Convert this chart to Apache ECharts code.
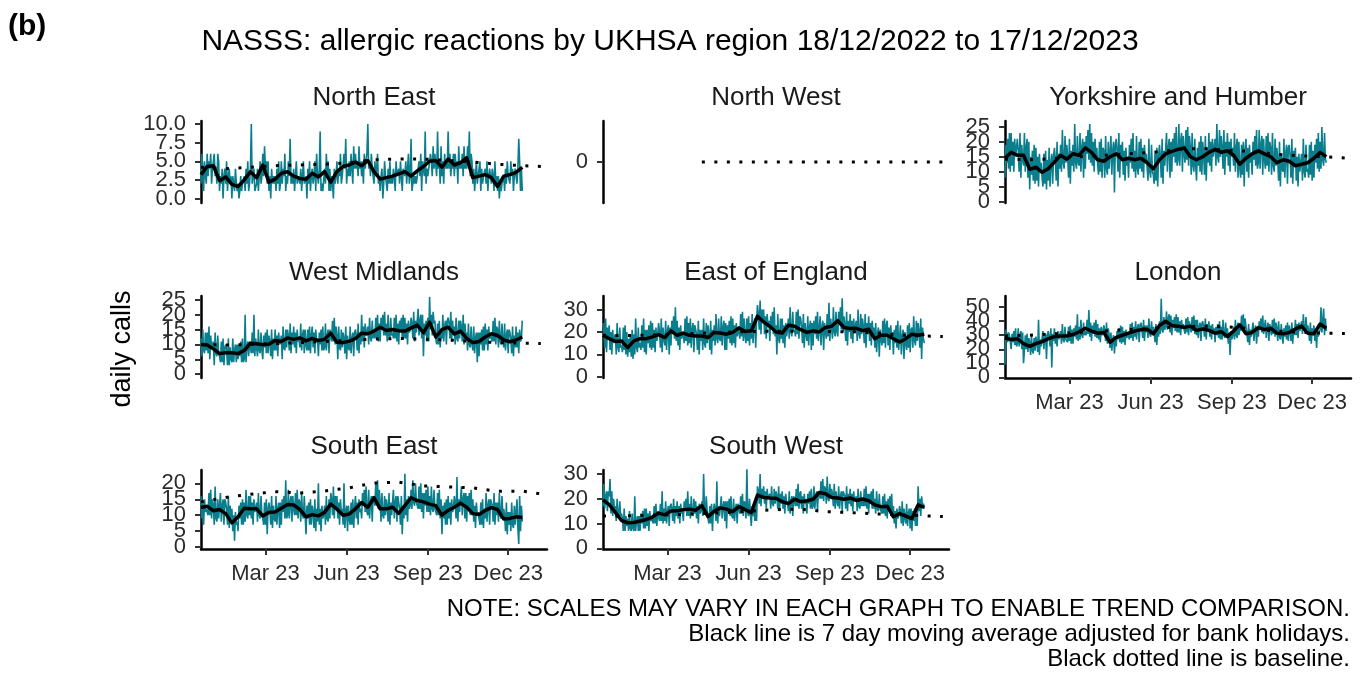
<!DOCTYPE html>
<html>
<head>
<meta charset="utf-8">
<script src="https://cdn.jsdelivr.net/npm/echarts@6.0.0/dist/echarts.min.js"></script>
<style>
  html, body { margin: 0; padding: 0; background: #fff; }
  #main { width: 1362px; height: 675px; }
</style>
</head>
<body>
<div id="main"></div>
<script>
// ---- data ----
var regions = ['North East', 'North West', 'Yorkshire and Humber', 'West Midlands',
               'East of England', 'London', 'South East', 'South West'];
var startDate = '2022-12-18';
var tickDates = ['2023-03-01', '2023-06-01', '2023-09-01', '2023-12-01'];
var tickLabels = ['Mar 23', 'Jun 23', 'Sep 23', 'Dec 23'];
// baseline read every 4 weeks (days since start)
var baseDays = [0, 28, 56, 84, 112, 140, 168, 196, 224, 252, 280, 308, 336, 364, 385];

// daily calls, one value per day from 18/12/2022
var neDaily = [
  2,6,4,1,5,3,2, 6,3,5,4,6,2,4, 5,6,3,4,2,6,5, 1,3,2,4,0,3,4, 2,5,1,3,4,2,3,
  0,3,2,1,4,2,1, 2,0,1,3,1,2,2, 3,1,4,2,5,1,2, 4,10,2,3,4,1,1, 2,4,1,3,5,2,3,
  6,3,7,4,5,2,5, 1,3,0,4,2,3,2, 3,1,4,2,5,1,2, 5,2,4,3,6,1,3, 2,5,3,8,2,3,2,
  4,1,3,5,2,3,3, 2,4,1,3,5,2,2, 3,0,4,2,5,1,3, 4,2,3,5,1,6,3, 2,4,9,1,2,1,1,
  4,2,6,3,5,1,4, 1,3,2,0,4,2,3, 5,2,4,3,6,2,3, 3,6,4,8,2,4,3, 5,3,6,4,2,7,4,
  6,4,5,3,7,4,5, 3,5,2,6,4,5,6, 10,4,5,3,6,4,4, 2,5,3,4,6,2,3, 1,3,4,0,2,5,3,
  3,1,4,2,5,2,3, 2,4,3,1,5,3,3, 4,2,5,3,1,4,4, 3,5,2,4,6,2,3, 8,1,2,3,2,3,2,
  2,4,5,3,6,1,5, 5,3,9,2,4,3,4, 4,6,5,3,7,4,6, 6,3,9,4,5,2,7, 3,5,2,6,4,5,4,
  9,4,6,3,5,4,6, 3,6,4,5,2,7,4, 5,4,6,3,7,4,5, 4,7,5,9,3,6,5, 2,4,1,3,5,2,3,
  3,5,1,4,2,3,3, 4,2,5,1,3,4,3, 2,4,3,1,5,2,3, 1,3,0,2,1,2,2, 3,1,4,2,5,3,3,
  2,5,3,4,1,3,4, 3,2,4,8,5,1,4, 1
];
var yhDaily = [
  8,19,13,21,11,23,10, 23,12,20,10,21,15,18, 21,17,10,23,8,19,14, 12,23,10,18,21,8,20,
  4,15,9,17,7,19,6, 18,7,15,5,16,10,13, 8,5,16,6,17,4,14, 7,18,5,13,16,6,15,
  18,14,7,20,5,16,11, 19,10,24,13,11,22,13, 19,15,8,21,6,17,12, 19,10,26,13,11,22,13,
  12,23,10,18,21,8,20, 11,22,16,24,14,26,13, 23,12,20,10,21,15,18, 12,9,20,10,21,8,18,
  17,8,22,11,9,20,11, 11,22,9,17,20,3,19, 21,17,10,23,8,19,14, 20,9,17,7,18,12,15,
  8,19,13,21,11,23,10, 17,8,22,11,9,20,11, 21,10,18,8,19,13,16, 16,7,21,10,8,19,10,
  9,6,17,7,18,5,15, 19,15,8,21,6,17,12, 12,23,10,18,21,8,20, 10,21,15,23,13,25,12,
  14,26,12,20,23,10,22, 16,13,24,14,25,12,22, 18,9,23,12,10,21,12, 7,18,12,20,10,22,9,
  20,16,9,22,7,18,13, 23,12,20,10,21,15,18, 21,12,26,15,13,24,15, 22,18,11,24,9,20,15,
  23,12,20,10,21,15,18, 12,23,10,18,21,8,20, 11,8,19,9,20,5,17, 21,10,18,8,19,13,16,
  9,20,14,22,12,24,11, 13,24,11,19,22,9,21, 14,11,22,12,23,10,20, 18,9,23,12,10,21,12,
  18,14,7,20,5,16,11, 10,21,8,16,19,6,18, 19,15,8,21,6,17,12, 18,7,15,5,16,10,13,
  16,7,21,10,8,19,10, 11,8,19,9,20,7,17, 8,19,13,21,11,23,10, 20,11,25,14,12,23,14, 13
];
var wmDaily = [
  12,6,15,8,7,14,8, 14,7,16,5,13,9,10, 11,3,14,7,6,13,7, 6,4,11,4,12,3,9, 10,8,3,12,3,9,5,
  4,12,4,8,10,4,10, 5,10,6,11,4,12,4, 5,20,4,9,11,6,11, 9,7,14,7,20,6,12, 12,6,15,8,7,14,8,
  5,13,9,14,7,15,7, 13,11,6,15,5,12,8, 15,8,13,6,14,10,11, 13,5,16,9,8,15,9, 15,13,8,17,7,14,10,
  16,9,14,7,15,11,12, 9,17,8,13,15,7,15, 10,8,15,8,16,7,13, 16,9,14,7,15,11,12, 6,14,10,15,8,16,8,
  9,17,8,13,15,7,15, 13,11,18,11,19,10,16, 13,5,16,9,8,15,9, 14,12,7,16,5,13,9, 8,16,7,12,14,6,14,
  15,13,8,17,7,14,10, 20,11,16,9,17,13,14, 16,10,19,12,11,18,12, 14,12,19,12,20,11,17, 11,19,15,20,13,21,13,
  17,11,20,13,12,19,13, 14,12,19,12,20,11,17, 10,18,14,19,12,20,12, 19,12,17,10,18,14,15, 19,17,12,21,11,18,14,
  14,22,13,18,20,12,20, 6,17,13,18,11,19,11, 26,15,20,13,21,17,18, 12,10,17,10,18,9,15, 12,20,11,16,18,10,18,
  19,17,12,21,11,18,14, 16,10,19,12,11,18,12, 18,16,11,20,10,17,13, 14,8,17,10,9,16,10, 8,16,7,12,14,4,14,
  6,14,10,15,8,16,8, 17,10,15,8,16,12,13, 13,11,18,11,19,10,16, 15,9,18,11,10,17,11, 9,17,8,13,15,7,15,
  14,12,7,16,6,13,9, 16,9,14,7,15,11,12, 18
];
var eeDaily = [
  24,20,13,26,11,22,17, 23,12,20,10,21,15,18, 19,10,24,13,11,22,13, 14,11,22,12,23,10,20, 9,17,11,19,9,21,8,
  19,10,26,13,11,22,13, 15,12,23,13,26,11,21, 10,21,15,23,13,25,12, 24,13,21,11,22,16,19, 24,20,13,26,11,22,17,
  14,25,12,20,23,10,22, 14,25,19,27,17,31,16, 25,14,22,12,23,17,20, 18,15,26,16,27,14,24, 15,26,13,21,24,11,23,
  23,19,12,25,10,21,16, 21,12,26,15,13,24,15, 23,19,12,25,10,21,16, 23,14,28,17,15,26,17, 16,27,14,22,25,12,24,
  12,23,17,25,15,27,14, 26,15,23,13,24,18,21, 20,17,28,18,29,16,26, 18,15,26,16,27,14,24, 17,28,15,23,26,13,25,
  32,28,21,34,19,30,25, 30,19,27,17,28,22,25, 16,27,21,29,19,31,18, 23,10,28,17,15,26,17, 26,15,23,13,24,18,21,
  26,17,31,20,18,29,20, 21,18,29,19,30,17,27, 26,22,15,28,13,24,19, 16,27,14,22,25,12,24, 14,25,19,27,17,29,16,
  16,27,14,22,25,12,24, 20,17,28,18,33,16,26, 26,17,31,20,18,29,20, 18,29,23,31,21,35,20, 27,23,16,29,14,25,20,
  28,17,25,15,26,20,23, 25,16,30,19,17,28,19, 26,22,15,28,13,24,19, 27,16,24,14,25,19,22, 13,24,11,19,22,9,21,
  17,14,25,15,26,13,23, 25,14,22,12,23,17,20, 10,21,15,23,13,25,12, 12,23,10,18,21,8,20, 15,12,23,13,24,11,21,
  22,13,27,16,14,25,16, 24,20,13,26,8,22,17, 15
];
var lnDaily = [
  9,34,31,25,32,30,29, 20,31,25,33,23,35,22, 24,35,22,30,33,20,32, 10,19,30,20,31,18,28, 25,16,30,19,17,28,19,
  29,25,18,41,16,27,22, 22,33,20,28,31,13,30, 33,29,22,35,7,31,26, 35,24,32,22,33,27,30, 33,24,38,27,25,36,27,
  28,25,36,26,37,24,34, 24,35,29,37,27,45,26, 36,27,41,30,28,39,30, 33,30,41,31,48,29,39, 26,37,31,39,29,41,28,
  38,27,35,25,36,30,33, 37,33,26,39,24,35,30, 21,32,19,27,30,17,29, 22,33,27,35,25,37,24, 36,25,33,23,34,28,31,
  30,27,38,28,39,26,36, 29,40,27,35,38,25,37, 39,35,28,41,26,37,32, 37,28,42,31,29,40,31, 36,32,25,38,23,34,29,
  40,31,56,34,32,43,34, 36,47,34,42,45,32,44, 30,41,35,43,33,45,32, 43,32,40,30,41,35,38, 34,31,42,32,43,30,40,
  35,32,43,33,44,31,41, 30,41,28,36,39,26,38, 40,36,29,42,27,38,33, 40,29,37,27,38,32,35, 25,36,30,38,28,40,27,
  36,27,41,30,28,39,30, 35,24,32,16,33,27,30, 36,27,41,30,28,39,30, 36,33,44,34,45,32,42, 36,32,25,38,23,34,29,
  28,39,26,34,37,24,36, 29,40,34,42,32,44,31, 30,41,28,36,39,26,38, 33,30,41,31,42,29,39, 35,26,40,29,27,38,29,
  24,35,29,37,27,39,26, 37,33,26,39,24,35,30, 41,30,38,28,39,33,36, 40,31,45,34,32,43,34, 37,33,26,39,24,35,30,
  37,26,34,21,35,29,32, 34,50,32,40,49,30,42, 33
];
var seDaily = [
  16,9,14,7,15,11,12, 12,10,17,10,18,9,15, 13,7,19,9,8,15,9, 9,17,8,13,15,7,15, 14,12,7,16,6,13,9,
  12,5,10,2,11,7,8, 5,13,9,14,7,15,7, 14,8,18,10,9,16,10, 16,9,14,7,15,11,12, 14,8,17,10,9,16,10,
  9,7,14,7,15,4,12, 14,12,7,16,6,13,9, 8,16,7,12,14,6,14, 7,15,11,16,9,21,9, 10,18,9,14,16,8,16,
  12,10,17,10,18,9,15, 14,8,17,10,9,16,10, 4,13,9,14,7,15,7, 13,11,6,15,5,12,8, 20,7,12,5,13,9,10,
  13,7,16,9,8,15,9, 17,15,10,19,9,16,12, 16,9,14,7,15,11,12, 7,20,6,11,13,5,13, 9,7,14,7,15,6,12,
  16,9,14,7,15,11,12, 9,17,13,18,11,19,11, 10,18,9,14,16,8,16, 15,13,20,13,21,12,18, 14,8,17,10,9,16,10,
  15,13,8,17,7,14,10, 10,18,9,14,16,8,16, 14,12,7,16,4,13,9, 23,10,15,8,16,12,13, 18,12,21,14,13,20,14,
  14,12,19,12,20,11,17, 9,17,13,18,11,19,11, 16,10,19,12,11,18,12, 12,10,17,10,18,9,15, 4,13,9,14,7,15,7,
  16,9,14,7,15,11,12, 16,14,9,22,8,15,11, 11,19,10,15,17,9,17, 8,16,12,17,10,18,10, 15,8,13,6,14,10,11,
  9,7,14,7,15,6,12, 9,17,8,13,15,7,15, 15,13,8,17,7,14,10, 14,8,17,10,9,16,10, 12,10,5,14,4,11,7,
  11,5,14,7,6,13,7, 7,15,6,1,16,5,13, 8
];
var swDaily = [
  17,26,16,21,23,15,23, 21,28,14,23,13,20,16, 17,11,20,13,12,19,13, 14,12,7,16,7,13,9, 12,7,15,8,7,14,8,
  7,21,7,11,13,7,13, 7,14,10,15,8,16,8, 16,9,14,7,15,11,12, 12,10,17,10,18,9,15, 13,11,18,11,23,10,16,
  11,19,10,15,17,9,17, 18,16,11,20,10,17,13, 19,12,17,10,18,14,15, 11,19,15,20,13,23,13, 18,12,21,14,13,20,14,
  19,12,17,10,18,14,15, 19,13,30,15,14,21,15, 12,10,17,10,18,7,15, 18,16,11,27,10,17,13, 13,21,12,17,19,11,19,
  8,19,15,20,13,21,13, 12,20,11,16,18,10,18, 16,14,21,14,22,13,19, 18,12,32,14,13,20,14, 9,17,13,18,11,19,11,
  25,23,18,30,17,24,20, 25,18,23,16,24,20,21, 22,16,25,18,17,24,18, 23,21,16,25,15,22,18, 23,16,21,14,22,18,19,
  15,23,14,19,21,13,21, 19,17,24,17,26,16,22, 23,16,21,14,22,18,19, 14,22,18,23,16,24,16, 17,25,16,21,23,15,23,
  22,20,27,20,28,19,25, 24,18,29,20,19,26,20, 24,22,17,26,16,23,19, 17,25,16,21,23,15,23, 23,21,16,25,15,22,18,
  24,17,22,15,23,19,20, 21,15,24,17,16,23,17, 19,17,24,17,25,16,22, 14,22,18,23,16,24,16, 20,14,23,16,15,22,16,
  16,14,21,14,22,13,19, 12,20,16,21,14,22,14, 17,10,15,8,16,12,13, 17,15,10,19,9,16,12, 10,18,9,14,16,8,16,
  7,15,11,16,9,17,9, 25,15,20,13,21,17,18, 16
];

// black line: 7 day moving average, read once a week (day 0, 7, 14 ...)
var neAvg = [3.2,4.3,4.4,2.4,2.9,1.9,1.6,2.5,3.6,2.8,4.5,2.2,2.6,3.4,3.6,3.0,2.7,2.6,3.4,2.9,3.6,2.2,3.6,4.3,4.5,4.9,4.4,5.1,3.6,2.6,2.8,3.0,3.3,3.6,3.0,3.7,4.3,5.0,5.1,4.2,5.3,4.5,4.8,5.5,2.8,3.0,3.2,2.8,1.6,3.0,3.2,3.5,4.2];
var yhAvg = [14.5,16.5,15.5,15.5,10.8,11.5,9.8,11.0,13.2,15.5,14.2,16.0,15.5,18.0,16.5,14.0,13.5,15.0,16.0,14.0,14.5,14.0,14.5,13.0,11.0,14.0,16.0,16.8,17.5,18.0,15.0,14.0,15.0,16.5,17.5,16.5,17.0,15.5,12.5,14.5,16.0,17.0,16.0,15.0,13.0,14.0,13.5,12.0,12.5,13.0,14.5,16.5,15.0];
var wmAvg = [10.0,9.8,8.5,6.9,7.2,7.2,6.9,8.0,10.4,10.2,9.9,10.1,11.3,11.0,12.2,11.7,12.2,11.2,12.0,11.3,11.7,13.8,10.7,10.6,11.1,12.0,13.8,13.6,14.5,15.8,14.7,15.0,14.6,14.5,15.5,16.5,14.0,17.5,12.5,15.0,15.8,13.5,14.5,12.0,10.6,11.0,12.5,13.6,13.0,11.5,10.9,11.5,12.5];
var eeAvg = [18.5,17.0,15.8,16.0,13.0,16.0,17.0,17.0,17.8,18.8,17.5,20.5,18.5,19.5,18.5,18.2,18.2,17.5,19.8,19.5,19.0,19.8,21.8,20.2,20.5,27.0,24.4,22.5,20.0,19.5,23.0,22.5,21.0,19.8,20.5,20.0,22.0,22.5,25.0,22.0,21.5,21.6,20.6,21.2,17.0,18.5,18.5,17.0,15.5,17.0,19.0,18.5,19.0];
var lnAvg = [28.0,27.0,27.5,24.0,22.0,24.0,25.5,27.5,29.0,29.5,29.5,30.5,32.5,35.0,33.0,31.5,32.0,25.0,28.5,30.0,31.5,33.0,34.0,34.3,31.0,37.0,40.0,37.0,36.5,35.5,36.5,33.5,34.5,33.5,31.5,32.5,29.0,33.0,37.5,31.0,32.0,35.5,34.0,35.0,31.5,31.0,32.0,34.5,36.5,31.5,31.0,38.0,35.0];
var seAvg = [12.4,12.8,11.4,11.8,10.5,7.6,9.5,12.2,12.0,12.0,9.8,10.9,11.0,12.2,13.4,13.2,11.8,9.5,10.2,9.8,10.9,13.5,11.9,10.0,10.4,12.0,14.0,12.5,15.5,12.0,12.0,12.5,10.6,13.0,15.5,14.6,14.2,13.5,13.0,10.0,11.5,12.5,13.8,12.5,10.5,10.2,11.5,12.4,11.8,8.8,9.0,9.5,9.3];
var swAvg = [19.5,17.6,14.5,11.2,10.3,10.4,11.0,11.6,12.6,14.2,13.5,15.0,15.1,15.6,15.8,15.3,17.2,12.8,14.9,16.3,15.8,14.8,16.8,15.6,14.4,21.5,20.5,20.3,20.2,18.8,18.0,19.8,18.8,19.2,19.8,22.5,22.0,20.5,20.3,19.8,20.3,19.3,19.9,19.2,17.5,16.8,17.0,12.7,14.0,13.0,12.0,17.5,16.5];

// dotted baseline, at baseDays
var neBase = [4.2,4.0,4.2,4.4,4.5,4.6,4.8,5.2,5.3,5.3,5.1,4.9,4.6,4.4,4.3];
var nwBase = [null,null,null,null,0,0,0,0,0,0,0,0,0,0,0];
var yhBase = [14.2,14.0,14.4,15.0,15.5,16.0,16.5,17.5,17.8,17.2,16.8,15.8,15.3,15.0,14.6];
var wmBase = [10.0,9.8,10.0,10.3,10.6,11.0,11.4,11.8,12.0,11.8,11.5,11.0,10.6,10.4,10.3];
var eeBase = [18.5,18.4,18.6,19.0,19.5,19.9,20.2,20.3,20.3,20.2,20.1,19.6,18.6,18.2,18.0];
var lnBase = [29.5,30.0,31.0,32.0,33.0,34.0,35.0,36.0,36.5,36.0,34.5,33.0,32.0,31.5,31.3];
var seBase = [14.2,15.6,16.6,17.4,17.0,17.6,18.6,20.1,20.4,19.2,18.9,18.6,17.5,17.6,16.7];
var swBase = [13.0,13.1,13.3,13.6,14.0,14.4,15.0,15.6,15.8,14.8,14.4,13.9,13.5,13.1,12.8];

// y tick values per panel
var neTicks = [0, 2.5, 5, 7.5, 10];
var nwTicks = [0];
var yhTicks = [0, 5, 10, 15, 20, 25];
var wmTicks = [0, 5, 10, 15, 20, 25];
var eeTicks = [0, 10, 20, 30];
var lnTicks = [0, 10, 20, 30, 40, 50];
var seTicks = [0, 5, 10, 15, 20];
var swTicks = [0, 10, 20, 30];

// ---- layout ----
var FONT = '"Liberation Sans", Arial, Helvetica, sans-serif';
var TEAL = '#0a7e8c';
var colLeft = [201, 603, 1005];
var rowTop = [121, 296, 470];
var rowH = [82, 82, 79];
var panelW = 346;
var xMax = 392;

function dayNum(s) {
  var p = s.split('-');
  return Date.UTC(+p[0], +p[1] - 1, +p[2]) / 864e5;
}
var day0 = dayNum(startDate);
var tickDays = tickDates.map(function (d) { return dayNum(d) - day0; });

var panels = [
  { daily: neDaily, avg: neAvg, base: neBase, ticks: neTicks, min: -0.6, max: 10.4, col: 0, row: 0, dec: 1 },
  { daily: [],      avg: [],    base: nwBase, ticks: nwTicks, min: -1,   max: 1,    col: 1, row: 0 },
  { daily: yhDaily, avg: yhAvg, base: yhBase, ticks: yhTicks, min: -0.5, max: 27,   col: 2, row: 0 },
  { daily: wmDaily, avg: wmAvg, base: wmBase, ticks: wmTicks, min: -1.3, max: 26.3, col: 0, row: 1 },
  { daily: eeDaily, avg: eeAvg, base: eeBase, ticks: eeTicks, min: -0.5, max: 36,   col: 1, row: 1 },
  { daily: lnDaily, avg: lnAvg, base: lnBase, ticks: lnTicks, min: -0.5, max: 58,   col: 2, row: 1, xaxis: true },
  { daily: seDaily, avg: seAvg, base: seBase, ticks: seTicks, min: -0.6, max: 24.2, col: 0, row: 2, xaxis: true },
  { daily: swDaily, avg: swAvg, base: swBase, ticks: swTicks, min: -0.3, max: 31.6, col: 1, row: 2, xaxis: true }
];

var grids = [], xAxes = [], yAxes = [], series = [];
var graphics = [
  { type: 'text', x: 8, y: 27, style: { text: '(b)', font: 'bold 30px ' + FONT, fill: '#000', align: 'left', verticalAlign: 'middle' } },
  { type: 'text', x: 670, y: 42, style: { text: 'NASSS: allergic reactions by UKHSA region 18/12/2022 to 17/12/2023', font: '30px ' + FONT, fill: '#000', align: 'center', verticalAlign: 'middle' } },
  { type: 'text', x: 123, y: 349, rotation: Math.PI / 2, style: { text: 'daily calls', font: '27px ' + FONT, fill: '#000', align: 'center', verticalAlign: 'middle' } },
  { type: 'text', x: 1350, y: 609, style: { text: 'NOTE: SCALES MAY VARY IN EACH GRAPH TO ENABLE TREND COMPARISON.', font: '24px ' + FONT, fill: '#000', align: 'right', verticalAlign: 'middle' } },
  { type: 'text', x: 1350, y: 634, style: { text: 'Black line is 7 day moving average adjusted for bank holidays.', font: '24px ' + FONT, fill: '#000', align: 'right', verticalAlign: 'middle' } },
  { type: 'text', x: 1350, y: 659, style: { text: 'Black dotted line is baseline.', font: '24px ' + FONT, fill: '#000', align: 'right', verticalAlign: 'middle' } }
];

panels.forEach(function (p, i) {
  var left = colLeft[p.col], top = rowTop[p.row];
  grids.push({ left: left, top: top, width: panelW, height: rowH[p.row] });
  graphics.push({
    type: 'text', x: left + panelW / 2, y: top - 23,
    style: { text: regions[i], font: '26px ' + FONT, fill: '#1a1a1a', align: 'center', verticalAlign: 'middle' }
  });
  xAxes.push({
    gridIndex: i, type: 'value', min: 0, max: xMax, show: !!p.xaxis,
    axisLine: { show: true, onZero: false, lineStyle: { color: '#000', width: 2.5 } },
    axisTick: { show: true, customValues: tickDays, length: 6, lineStyle: { color: '#333', width: 2 } },
    axisLabel: {
      customValues: tickDays, margin: 14, fontSize: 22, fontFamily: FONT, color: '#2b2b2b',
      formatter: function (v) { return tickLabels[tickDays.indexOf(v)]; }
    },
    splitLine: { show: false }
  });
  yAxes.push({
    gridIndex: i, type: 'value', min: p.min, max: p.max,
    axisLine: { show: true, onZero: false, lineStyle: { color: '#000', width: 2.5 } },
    axisTick: { show: true, customValues: p.ticks, length: 6, lineStyle: { color: '#333', width: 2 } },
    axisLabel: { show: false },
    splitLine: { show: false }
  });
  series.push({
    type: 'line', xAxisIndex: i, yAxisIndex: i, showSymbol: false, silent: true,
    lineStyle: { color: TEAL, width: 1.6 },
    data: p.daily.map(function (v, d) { return [d, v]; })
  });
  series.push({
    type: 'line', xAxisIndex: i, yAxisIndex: i, showSymbol: false, silent: true,
    lineStyle: { color: '#000', width: 3.5, join: 'round' },
    data: p.avg.map(function (v, w) { return [w * 7, v]; })
  });
  series.push({
    type: 'line', xAxisIndex: i, yAxisIndex: i, showSymbol: false, silent: true,
    lineStyle: { color: '#000', width: 3, type: [3, 9.5], cap: 'butt' },
    data: p.base.map(function (v, k) { return [baseDays[k], v]; })
  });
  // y tick labels: ECharts drops some of these tightly packed labels, the original shows them all
  series.push({
    type: 'scatter', xAxisIndex: i, yAxisIndex: i, symbolSize: 0, silent: true, clip: false,
    itemStyle: { opacity: 1 },
    label: {
      show: true, position: 'left', distance: 15, fontSize: 22, fontFamily: FONT,
      color: '#2b2b2b', opacity: 1, textBorderWidth: 0,
      formatter: function (prm) { var v = prm.value[1]; return p.dec ? v.toFixed(1) : String(v); }
    },
    data: p.ticks.map(function (v) { return [0, v]; })
  });
});

var chart = echarts.init(document.getElementById('main'));
chart.setOption({
  backgroundColor: '#fff',
  animation: false,
  grid: grids,
  xAxis: xAxes,
  yAxis: yAxes,
  graphic: graphics,
  series: series
});
</script>
</body>
</html>
